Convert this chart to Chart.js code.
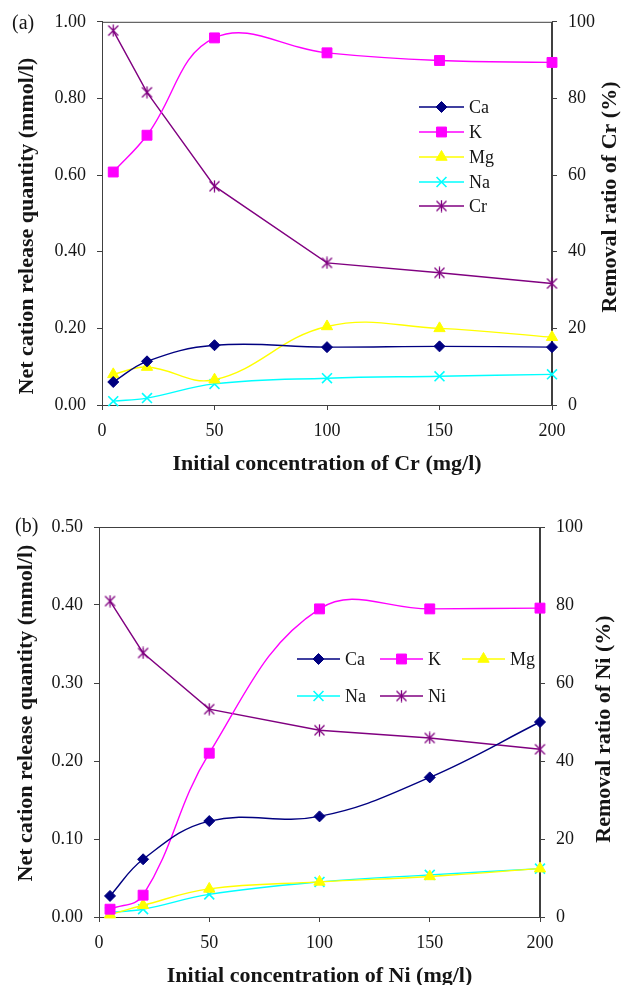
<!DOCTYPE html>
<html>
<head>
<meta charset="utf-8">
<title>Cation release and removal ratio</title>
<script src="https://cdn.jsdelivr.net/npm/chart.js@4.4.1/dist/chart.umd.min.js"></script>
<style>
  body { margin: 0; background: #fff; width: 626px; height: 985px; position: relative; overflow: hidden; }
  .panel { position: absolute; left: 0; width: 626px; }
</style>
</head>
<body>
<div class="panel" style="top:0;height:490px"><canvas id="chartCr" width="626" height="490"></canvas></div>
<div class="panel" style="top:490px;height:495px"><canvas id="chartNi" width="626" height="495"></canvas></div>
<script>
// initial metal concentration (mg/l)
var conc = [5, 20, 50, 100, 150, 200];

// (a) Cr experiments: net cation release (mmol/l) and Cr removal (%)
var caCr = [0.060, 0.114, 0.156, 0.151, 0.153, 0.151];
var kCr  = [0.608, 0.704, 0.958, 0.919, 0.899, 0.894];
var mgCr = [0.080, 0.099, 0.066, 0.205, 0.200, 0.177];
var naCr = [0.010, 0.018, 0.055, 0.070, 0.075, 0.080];
var removalCr = [97.7, 81.6, 57.1, 37.1, 34.5, 31.7];

// (b) Ni experiments
var caNi = [0.027, 0.074, 0.123, 0.129, 0.179, 0.250];
var kNi  = [0.010, 0.028, 0.210, 0.395, 0.395, 0.396];
var mgNi = [0.003, 0.015, 0.036, 0.045, 0.052, 0.062];
var naNi = [0.006, 0.010, 0.029, 0.045, 0.054, 0.062];
var removalNi = [81.0, 67.7, 53.3, 47.9, 45.9, 43.0];

var xTicks = [0, 50, 100, 150, 200];
var removalTicks = [0, 20, 40, 60, 80, 100];

var SERIF = '"Liberation Serif", "Times New Roman", serif';
var AXIS = '#404040';
var INK = '#151515';

// six-armed asterisk marker for the removal series
function asteriskMarker(color, size) {
  var c = document.createElement('canvas');
  c.width = size; c.height = size;
  var g = c.getContext('2d');
  g.strokeStyle = color;
  g.lineWidth = 1.3;
  var a = 1.5, b = size - 1.5;
  g.beginPath();
  g.moveTo(a, a); g.lineTo(b, b);
  g.moveTo(b, a); g.lineTo(a, b);
  g.moveTo(size / 2, 0.5); g.lineTo(size / 2, size - 0.5);
  g.stroke();
  return c;
}

function pairs(ys) {
  return conc.map(function (x, i) { return { x: x, y: ys[i] }; });
}

function series(label, ys, color, style, radius, axis, tension) {
  return {
    label: label,
    data: pairs(ys),
    borderColor: color,
    backgroundColor: color,
    borderWidth: 1.4,
    pointStyle: style,
    pointRadius: radius,
    pointHoverRadius: radius,
    pointBorderWidth: style === 'crossRot' ? 1.6 : 1,
    pointBorderColor: color,
    pointBackgroundColor: color,
    tension: tension === undefined ? 0.4 : tension,
    clip: false,
    yAxisID: axis || 'y'
  };
}

// frame, in-plot legend, vertical axis titles and panel letter
var decorations = {
  id: 'decorations',
  beforeDatasetsDraw: function (chart) {
    var a = chart.chartArea, ctx = chart.ctx;
    ctx.save();
    ctx.strokeStyle = AXIS;
    ctx.lineWidth = 1;
    ctx.strokeRect(a.left + 0.5, a.top + 0.5, a.right - a.left - 1, a.bottom - a.top);
    ctx.restore();
  },
  afterDraw: function (chart, args, opts) {
    var ctx = chart.ctx;
    ctx.save();
    // legend entries
    ctx.font = '18px ' + SERIF;
    ctx.textBaseline = 'middle';
    ctx.textAlign = 'left';
    opts.legend.forEach(function (e) {
      var ds = chart.data.datasets[e.i];
      ctx.strokeStyle = ds.borderColor;
      ctx.lineWidth = 1.4;
      ctx.beginPath();
      ctx.moveTo(e.x0, e.y); ctx.lineTo(e.x1, e.y);
      ctx.stroke();
      var cx = (e.x0 + e.x1) / 2;
      if (typeof ds.pointStyle === 'string') {
        ctx.fillStyle = ds.backgroundColor;
        ctx.lineWidth = ds.pointBorderWidth;
        Chart.helpers.drawPoint(ctx, { pointStyle: ds.pointStyle, radius: ds.pointRadius, rotation: 0, borderWidth: ds.pointBorderWidth }, cx, e.y);
      } else {
        var img = ds.pointStyle;
        ctx.drawImage(img, cx - img.width / 2, e.y - img.height / 2);
      }
      ctx.fillStyle = INK;
      ctx.fillText(ds.label, e.x1 + 5, e.y + 1);
    });
    // vertical titles, both reading bottom to top
    ctx.font = 'bold 22px ' + SERIF;
    ctx.fillStyle = INK;
    ctx.textAlign = 'center';
    ctx.textBaseline = 'alphabetic';
    opts.titles.forEach(function (t) {
      ctx.save();
      ctx.translate(t.x, t.y);
      ctx.rotate(-Math.PI / 2);
      ctx.fillText(t.text, 0, 0);
      ctx.restore();
    });
    ctx.font = '20px ' + SERIF;
    ctx.textAlign = 'left';
    ctx.textBaseline = 'middle';
    ctx.fillText(opts.letter.text, opts.letter.x, opts.letter.y);
    ctx.restore();
  }
};

function buildChart(id, p) {
  var tickFont = { family: SERIF, size: 18 };
  return new Chart(document.getElementById(id), {
    type: 'line',
    data: {
      datasets: [
        series('Ca', p.ca, '#000080', 'rectRot', 5.5),
        series('K', p.k, '#FF00FF', 'rect', 7),
        series('Mg', p.mg, '#FFFF00', 'triangle', 6.5),
        series('Na', p.na, '#00FFFF', 'crossRot', 7),
        series(p.metal, p.removal, '#800080', asteriskMarker('#800080', 13), 6, 'y1', 0)
      ]
    },
    options: {
      responsive: false,
      animation: false,
      events: [],
      layout: { padding: { top: p.top, left: 0, right: 0, bottom: 0 } },
      plugins: {
        legend: { display: false },
        tooltip: { enabled: false },
        decorations: { legend: p.legend, titles: p.titles, letter: p.letter }
      },
      scales: {
        x: {
          type: 'linear',
          min: 0, max: 200,
          afterBuildTicks: function (s) { s.ticks = xTicks.map(function (v) { return { value: v }; }); },
          ticks: { color: INK, font: tickFont, padding: 10, maxRotation: 0 },
          grid: { drawOnChartArea: false, tickLength: 5, color: AXIS },
          border: { color: AXIS },
          title: {
            display: true,
            text: 'Initial concentration of ' + p.metal + ' (mg/l)',
            color: INK,
            font: { family: SERIF, size: 22, weight: 'bold' },
            padding: { top: 0, bottom: p.xTitlePad }
          },
          afterFit: function (s) { s.height = p.xHeight; }
        },
        y: {
          position: 'left',
          min: 0, max: p.yMax,
          ticks: { stepSize: p.yStep, color: INK, font: tickFont, padding: 11,
                   callback: function (v) { return v.toFixed(2); } },
          grid: { drawOnChartArea: false, tickLength: 5, color: AXIS },
          border: { color: AXIS },
          afterFit: function (s) { s.width = p.leftWidth; }
        },
        y1: {
          position: 'right',
          min: 0, max: 100,
          afterBuildTicks: function (s) { s.ticks = removalTicks.map(function (v) { return { value: v }; }); },
          ticks: { color: INK, font: tickFont, padding: 11 },
          grid: { drawOnChartArea: false, tickLength: 5, color: AXIS },
          border: { color: AXIS },
          afterFit: function (s) { s.width = p.rightWidth; }
        }
      }
    },
    plugins: [decorations]
  });
}

buildChart('chartCr', {
  metal: 'Cr', ca: caCr, k: kCr, mg: mgCr, na: naCr, removal: removalCr,
  yMax: 1.0, yStep: 0.2,
  top: 20, leftWidth: 102, rightWidth: 74, xHeight: 85, xTitlePad: 12,
  legend: [
    { i: 0, x0: 419, x1: 464, y: 107 },
    { i: 1, x0: 419, x1: 464, y: 132 },
    { i: 2, x0: 419, x1: 464, y: 157 },
    { i: 3, x0: 419, x1: 464, y: 182 },
    { i: 4, x0: 419, x1: 464, y: 206 }
  ],
  titles: [
    { text: 'Net cation release quantity (mmol/l)', x: 33, y: 226 },
    { text: 'Removal ratio of Cr (%)', x: 616, y: 197 }
  ],
  letter: { text: '(a)', x: 12, y: 24 }
});

buildChart('chartNi', {
  metal: 'Ni', ca: caNi, k: kNi, mg: mgNi, na: naNi, removal: removalNi,
  yMax: 0.5, yStep: 0.1,
  top: 37, leftWidth: 99, rightWidth: 86, xHeight: 68, xTitlePad: -5,
  legend: [
    { i: 0, x0: 297, x1: 340, y: 169 },
    { i: 1, x0: 380, x1: 423, y: 169 },
    { i: 2, x0: 462, x1: 505, y: 169 },
    { i: 3, x0: 297, x1: 340, y: 206 },
    { i: 4, x0: 380, x1: 423, y: 206 }
  ],
  titles: [
    { text: 'Net cation release quantity (mmol/l)', x: 32, y: 223 },
    { text: 'Removal ratio of Ni (%)', x: 610, y: 239 }
  ],
  letter: { text: '(b)', x: 15, y: 37 }
});
</script>
</body>
</html>
